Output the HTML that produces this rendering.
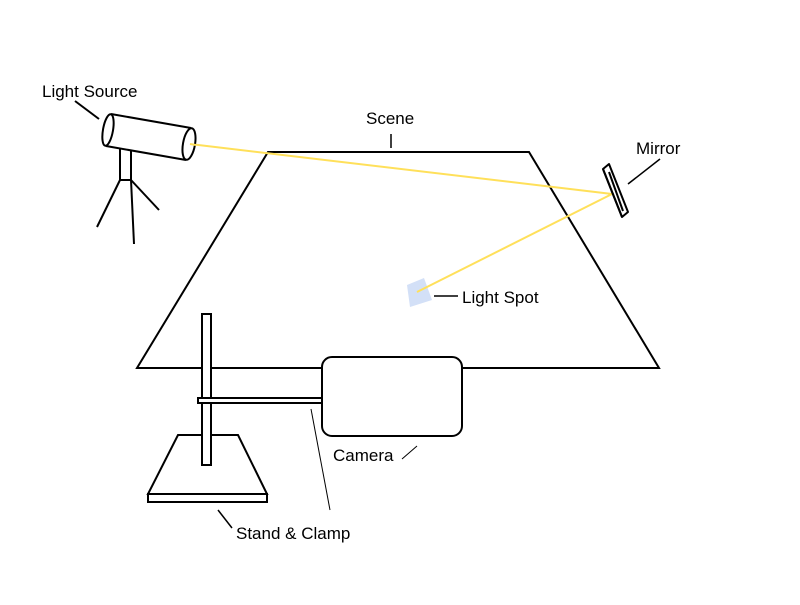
<!DOCTYPE html>
<html><head><meta charset="utf-8"><style>
body{margin:0;background:#fff}
svg text{font-family:"Liberation Sans",sans-serif;font-size:17px;fill:#000}
</style></head><body>
<svg width="800" height="600" viewBox="0 0 800 600">
<rect width="800" height="600" fill="#fff"/>
<polygon points="268,152 529,152 659,368 137,368" fill="none" stroke="#000" stroke-width="2"/>
<line x1="391" y1="134" x2="391" y2="148" stroke="#000" stroke-width="1.5"/>
<text x="366" y="124">Scene</text>
<polygon points="407,285 424,278 432,300 410,307" fill="#d3e0f7"/>
<polyline points="190,144 612,194 417,292" fill="none" stroke="#ffe05a" stroke-width="2"/>
<line x1="434" y1="296" x2="458" y2="296" stroke="#000" stroke-width="1.5"/>
<text x="462" y="303">Light Spot</text>
<g stroke="#000" stroke-width="2" fill="#fff">
<rect x="120" y="148" width="11" height="32"/>
<line x1="120" y1="180" x2="97" y2="227"/><line x1="131" y1="180" x2="134" y2="244"/><line x1="131" y1="180" x2="159" y2="210"/>
<path d="M111,114 L191,128 L186,160 L106,146 Z" stroke="none"/>
<line x1="111" y1="114" x2="191" y2="128"/><line x1="106" y1="146" x2="186" y2="160"/>
<ellipse cx="108" cy="130" rx="5" ry="16" transform="rotate(10 108 130)"/>
<ellipse cx="189" cy="144" rx="6" ry="16" transform="rotate(10 189 144)"/>
</g>
<line x1="190" y1="144" x2="196" y2="145" stroke="#ffe05a" stroke-width="2"/>
<line x1="75" y1="101" x2="99" y2="119" stroke="#000" stroke-width="2"/>
<text x="42" y="97">Light Source</text>
<g stroke="#000" stroke-width="2" fill="#fff" stroke-linejoin="round">
<polygon points="603,169 609,164 628,212 622,217"/>
<line x1="603" y1="169" x2="622" y2="217"/>
<line x1="609" y1="172" x2="623" y2="211"/>
</g>
<line x1="628" y1="184" x2="660" y2="159" stroke="#000" stroke-width="1.5"/>
<text x="636" y="154">Mirror</text>
<g stroke="#000" stroke-width="2" fill="#fff">
<polygon points="178,435 238,435 267,494 148,494"/>
<rect x="148" y="494" width="119" height="8"/>
<rect x="202" y="314" width="9" height="151"/>
<rect x="198" y="398" width="125" height="5"/>
</g>
<rect x="322" y="357" width="140" height="79" rx="10" fill="#fff" stroke="#000" stroke-width="2"/>
<line x1="402" y1="459" x2="417" y2="446" stroke="#000" stroke-width="1"/>
<text x="333" y="461">Camera</text>
<line x1="311" y1="409" x2="330" y2="510" stroke="#000" stroke-width="1"/>
<line x1="218" y1="510" x2="232" y2="528" stroke="#000" stroke-width="1.5"/>
<text x="236" y="539">Stand &amp; Clamp</text>
</svg>
</body></html>
